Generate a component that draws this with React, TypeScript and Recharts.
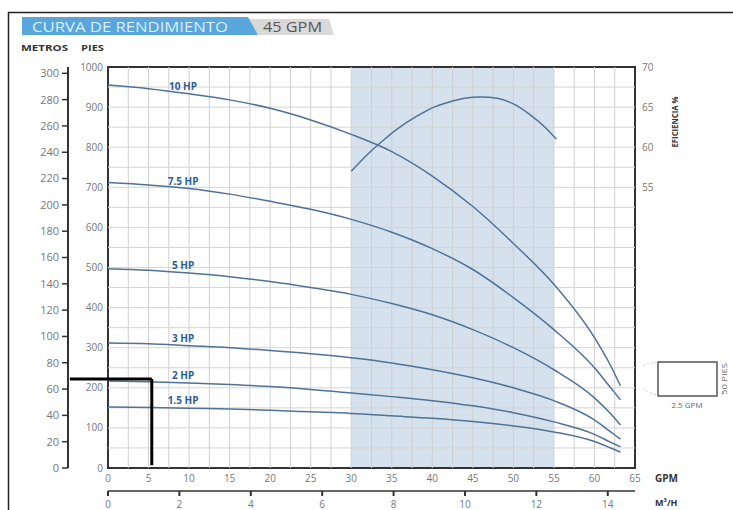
import React from "react";
import { ComposedChart, Line, XAxis, YAxis, ReferenceArea, ReferenceLine } from "recharts";

// flow (GPM) at which the head curves are read
const gpm = [0, 5, 10, 15, 20, 25, 30, 35, 40, 45, 50, 55, 60, 62, 63.2];

// head in feet for each motor
const hp10 = [955, 946, 933, 918, 897, 868, 832, 789, 728, 652, 560, 458, 325, 255, 205];
const hp75 = [712, 706, 697, 683, 665, 645, 620, 588, 547, 495, 425, 345, 250, 200, 170];
const hp5 = [497, 493, 486, 477, 465, 450, 433, 410, 382, 345, 300, 245, 175, 135, 107];
const hp3 = [312, 310, 305, 300, 293, 285, 275, 262, 245, 225, 200, 168, 120, 90, 72];
const hp2 = [217, 215, 212, 208, 203, 196, 187, 178, 168, 155, 138, 115, 84, 64, 53];
const hp15 = [152, 151, 149, 147, 144, 140, 136, 130, 124, 116, 105, 90, 66, 50, 40];

const curveNames = ["10 HP", "7.5 HP", "5 HP", "3 HP", "2 HP", "1.5 HP"];
const curveKeys = ["hp10", "hp75", "hp5", "hp3", "hp2", "hp15"];

// efficiency curve
const effGpm = [30, 32, 34, 36, 38, 40, 42, 44, 46, 48, 50, 52, 54, 55.3];
const effPct = [57.0, 59.1, 60.9, 62.5, 63.8, 64.9, 65.6, 66.1, 66.25, 66.1, 65.4, 64.1, 62.4, 61.0];

// ticks
const gpmTicks = [0, 5, 10, 15, 20, 25, 30, 35, 40, 45, 50, 55, 60, 65];
const m3Ticks = [0, 2, 4, 6, 8, 10, 12, 14];
const ftTicks = [0, 100, 200, 300, 400, 500, 600, 700, 800, 900, 1000];
const mTicks = [0, 20, 40, 60, 80, 100, 120, 140, 160, 180, 200, 220, 240, 260, 280, 300];
const effTicks = [55, 60, 65, 70];

// grid
const gridGpm = [2.5, 5, 7.5, 10, 12.5, 15, 17.5, 20, 22.5, 25, 27.5, 30, 32.5, 35, 37.5, 40, 42.5, 45, 47.5, 50, 52.5, 55, 57.5, 60, 62.5];
const gridFt = [50, 100, 150, 200, 250, 300, 350, 400, 450, 500, 550, 600, 650, 700, 750, 800, 850, 900, 950];

// recommended range and marked duty point
const bestRange = [30, 55];
const dutyGpm = 5.4;
const dutyFt = 222;
const dutyFromGpm = -4.7;
const dutyToFt = 7;

const FT_PER_M = 3.28084;
const GPM_PER_M3H = 4.4029;

const headData = gpm.map((g, i) => ({
  gpm: g,
  m3: g / GPM_PER_M3H,
  hp10: hp10[i],
  hp75: hp75[i],
  hp5: hp5[i],
  hp3: hp3[i],
  hp2: hp2[i],
  hp15: hp15[i],
}));
const effData = effGpm.map((g, i) => ({ gpm: g, eff: effPct[i] }));

const FONT = "'Open Sans', 'DejaVu Sans', sans-serif";
const CURVE = "#4f7296";
const LABEL_AT = 2;

const curveLabel = (name: string) => (props: any) => {
  if (props.index !== LABEL_AT) return null;
  return (
    <text
      x={props.x - 6}
      y={props.y - 4}
      textAnchor="middle"
      fill="#2c5d96"
      fontSize={10}
      fontWeight={700}
      fontFamily={FONT}
    >
      {name}
    </text>
  );
};

export default function App() {
  return (
    <div style={{ position: "absolute", left: 0, top: 0, width: 733, height: 510, background: "#fff", overflow: "hidden" }}>
      <ComposedChart
        width={733}
        height={515}
        data={headData}
        margin={{ top: 67, right: 58, bottom: 0, left: 8 }}
      >
        <XAxis
          xAxisId="gpm"
          dataKey="gpm"
          type="number"
          domain={[0, 65]}
          allowDataOverflow
          ticks={gpmTicks}
          axisLine={false}
          tickLine={false}
          tickSize={0}
          tickMargin={7}
          height={23}
          tick={{ fill: "#777", fontSize: 10, fontFamily: FONT }}
        />
        <XAxis
          xAxisId="m3"
          dataKey="m3"
          type="number"
          domain={[0, 65 / GPM_PER_M3H]}
          allowDataOverflow
          ticks={m3Ticks}
          axisLine={{ stroke: "#333", strokeWidth: 1.5 }}
          tickLine={{ stroke: "#333", strokeWidth: 2 }}
          tickSize={5}
          tickMargin={5}
          height={24}
          tick={{ fill: "#777", fontSize: 10, fontFamily: FONT }}
        />
        <YAxis
          yAxisId="ft"
          type="number"
          domain={[0, 1000]}
          allowDataOverflow
          ticks={ftTicks}
          axisLine={false}
          tickLine={false}
          tickSize={0}
          tickMargin={5}
          width={40}
          tick={{ fill: "#777", fontSize: 10, fontFamily: FONT }}
        />
        <YAxis
          yAxisId="m"
          type="number"
          domain={[0, 1000 / FT_PER_M]}
          allowDataOverflow
          ticks={mTicks}
          axisLine={{ stroke: "#333", strokeWidth: 2 }}
          tickLine={{ stroke: "#333", strokeWidth: 1.5 }}
          tickSize={6}
          tickMargin={3}
          width={60}
          tick={{ fill: "#777", fontSize: 11, fontFamily: FONT }}
        />
        <YAxis
          yAxisId="eff"
          orientation="right"
          type="number"
          domain={[20, 70]}
          allowDataOverflow
          ticks={effTicks}
          axisLine={false}
          tickLine={false}
          tickSize={0}
          tickMargin={7}
          width={40}
          tick={{ fill: "#777", fontSize: 10, fontFamily: FONT }}
        />

        <ReferenceArea
          xAxisId="gpm"
          yAxisId="ft"
          x1={bestRange[0]}
          x2={bestRange[1]}
          y1={0}
          y2={1000}
          fill="#d6e1ee"
          fillOpacity={1}
          stroke="none"
        />
        {gridGpm.map((g) => (
          <ReferenceLine key={"gx" + g} xAxisId="gpm" yAxisId="ft" x={g} stroke="#cfcfcf" strokeWidth={1} />
        ))}
        {gridFt.map((f) => (
          <ReferenceLine key={"gy" + f} xAxisId="gpm" yAxisId="ft" y={f} stroke="#d4d4d4" strokeWidth={1} />
        ))}
        <ReferenceArea
          xAxisId="gpm"
          yAxisId="ft"
          x1={0}
          x2={65}
          y1={0}
          y2={1000}
          fill="none"
          stroke="#333"
          strokeWidth={2}
        />

        {curveKeys.map((k, i) => (
          <Line
            key={k}
            xAxisId="gpm"
            yAxisId="ft"
            type="monotone"
            dataKey={k}
            stroke={CURVE}
            strokeWidth={1.5}
            dot={false}
            label={curveLabel(curveNames[i])}
            isAnimationActive={false}
          />
        ))}
        <Line
          xAxisId="gpm"
          yAxisId="eff"
          data={effData}
          type="monotone"
          dataKey="eff"
          stroke={CURVE}
          strokeWidth={1.5}
          dot={false}
          isAnimationActive={false}
        />

        <ReferenceLine
          xAxisId="gpm"
          yAxisId="ft"
          segment={[
            { x: dutyFromGpm, y: dutyFt },
            { x: dutyGpm, y: dutyFt },
          ]}
          ifOverflow="visible"
          stroke="#000"
          strokeWidth={3}
        />
        <ReferenceLine
          xAxisId="gpm"
          yAxisId="ft"
          segment={[
            { x: dutyGpm, y: dutyFt },
            { x: dutyGpm, y: dutyToFt },
          ]}
          ifOverflow="visible"
          stroke="#000"
          strokeWidth={3}
        />
      </ComposedChart>

      <svg
        width={733}
        height={510}
        style={{ position: "absolute", left: 0, top: 0, pointerEvents: "none" }}
        fontFamily={FONT}
      >
        <path d="M8.5,510 V12.5 H733" fill="none" stroke="#222" strokeWidth={1.5} />

        <polygon points="248,19 329,19 334,35 258,35" fill="#d9d9d9" />
        <polygon points="22,17 248,17 258,35 22,35" fill="#58a6dc" />
        <text x={32} y={32} fontSize={15} fill="#dceefa" textLength={196} lengthAdjust="spacingAndGlyphs">
          CURVA DE RENDIMIENTO
        </text>
        <text x={263} y={32} fontSize={15} fill="#555" textLength={59} lengthAdjust="spacingAndGlyphs">
          45 GPM
        </text>

        <text x={21} y={51} fontSize={9} fontWeight={700} fill="#333" textLength={47} lengthAdjust="spacingAndGlyphs">
          METROS
        </text>
        <text x={81} y={51} fontSize={9} fontWeight={700} fill="#333" textLength={23} lengthAdjust="spacingAndGlyphs">
          PIES
        </text>

        <text
          x={0}
          y={0}
          transform="translate(678,122) rotate(-90)"
          textAnchor="middle"
          fontSize={9}
          fontWeight={700}
          fill="#333"
          textLength={51}
          lengthAdjust="spacingAndGlyphs"
        >
          EFICIENCIA %
        </text>

        <text x={655} y={482} fontSize={10} fontWeight={700} fill="#333">
          GPM
        </text>
        <text x={655} y={506} fontSize={9} fontWeight={700} fill="#333">
          M³/H
        </text>

        <path d="M643,366 Q650,362 658,363" fill="none" stroke="#cccccc" strokeWidth={1} strokeDasharray="2 2" />
        <path d="M643,389 Q650,394 658,395" fill="none" stroke="#cccccc" strokeWidth={1} strokeDasharray="2 2" />
        <rect x={658} y={362} width={59} height={34} fill="#fff" stroke="#555" strokeWidth={1.5} />
        <text x={687} y={408} textAnchor="middle" fontSize={8} fill="#666">
          2.5 GPM
        </text>
        <text
          x={0}
          y={0}
          transform="translate(727,379) rotate(-90)"
          textAnchor="middle"
          fontSize={8}
          fill="#666"
          textLength={32}
          lengthAdjust="spacingAndGlyphs"
        >
          50 PIES
        </text>
      </svg>
    </div>
  );
}
